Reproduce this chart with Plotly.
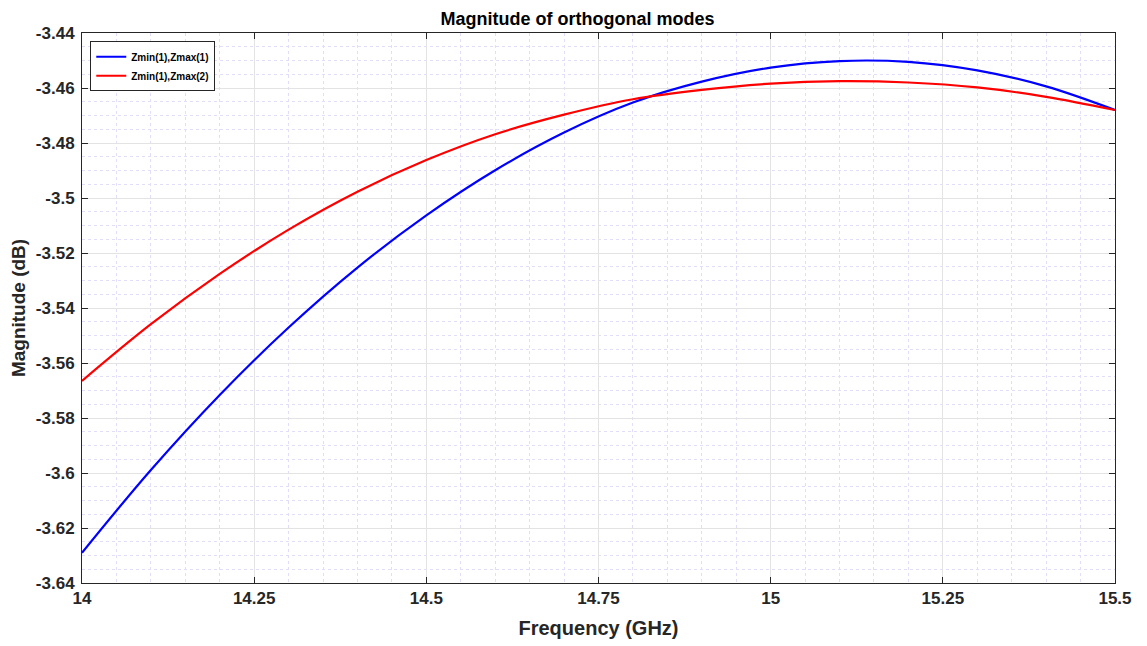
import plotly.graph_objects as go

freq = [14.0, 14.1, 14.2, 14.3, 14.4, 14.5, 14.6, 14.7, 14.8, 14.9, 15.0, 15.1, 15.2, 15.3, 15.4, 15.5]
mag_zmax1 = [-3.6290, -3.5989, -3.5716, -3.5471, -3.5253, -3.5063, -3.4899, -3.4762, -3.4653,
             -3.4577, -3.4526, -3.4502, -3.4505, -3.4536, -3.4594, -3.4680]
mag_zmax2 = [-3.5665, -3.5459, -3.5276, -3.5115, -3.4977, -3.4862, -3.4768, -3.4697, -3.4641,
             -3.4607, -3.4584, -3.4575, -3.4580, -3.4598, -3.4632, -3.4680]
series_names = ["Zmin(1),Zmax(1)", "Zmin(1),Zmax(2)"]

x_ticks = [14, 14.25, 14.5, 14.75, 15, 15.25, 15.5]
x_ticktext = ["14", "14.25", "14.5", "14.75", "15", "15.25", "15.5"]
y_ticks = [-3.64, -3.62, -3.60, -3.58, -3.56, -3.54, -3.52, -3.50, -3.48, -3.46, -3.44]
y_ticktext = ["-3.64", "-3.62", "-3.6", "-3.58", "-3.56", "-3.54", "-3.52", "-3.5", "-3.48", "-3.46", "-3.44"]

FONT = "Liberation Sans, Arial, Helvetica, sans-serif"
TXT = "#262626"

fig = go.Figure()
fig.add_trace(go.Scatter(x=freq, y=mag_zmax1, mode="lines", name=series_names[0],
                         line=dict(color="rgb(0,0,255)", width=2.2, shape="spline")))
fig.add_trace(go.Scatter(x=freq, y=mag_zmax2, mode="lines", name=series_names[1],
                         line=dict(color="rgb(255,0,0)", width=2.2, shape="spline")))

axis_common = dict(
    showline=True, linecolor="#262626", linewidth=1, mirror="ticks",
    ticks="inside", ticklen=6, tickcolor="#262626",
    showgrid=True, gridcolor="#e3e3e3", gridwidth=1,
    zeroline=False, automargin=False,
    tickfont=dict(family=FONT, size=17, color=TXT, weight="bold"),
)

fig.update_xaxes(
    range=[14, 15.5], tickmode="array", tickvals=x_ticks, ticktext=x_ticktext,
    title=dict(text="Frequency (GHz)", font=dict(family=FONT, size=20, color=TXT, weight="bold"), standoff=13),
    minor=dict(tickmode="linear", tick0=14, dtick=0.05, showgrid=True, griddash="dot",
               gridcolor="#e2def9", gridwidth=1, ticks=""),
    **axis_common,
)
fig.update_yaxes(
    range=[-3.64, -3.44], tickmode="array", tickvals=y_ticks, ticktext=y_ticktext,
    title=dict(text="Magnitude (dB)", font=dict(family=FONT, size=19, color=TXT, weight="bold"), standoff=8),
    minor=dict(tickmode="linear", tick0=-3.64, dtick=0.005, showgrid=True, griddash="dot",
               gridcolor="#e2def9", gridwidth=1, ticks=""),
    ticklabelstandoff=3,
    **axis_common,
)

fig.update_layout(
    width=1139, height=638,
    margin=dict(l=74, r=32, t=25, b=63),
    paper_bgcolor="white", plot_bgcolor="white",
    title=dict(text="Magnitude of orthogonal modes", x=0.5, xanchor="center", y=0.984, yanchor="middle",
               font=dict(family=FONT, size=18, color="black", weight="bold")),
    legend=dict(x=0.008, y=0.985, xanchor="left", yanchor="top",
                bgcolor="white", bordercolor="#262626", borderwidth=1,
                font=dict(family=FONT, size=10, color="black", weight="bold"),
                tracegroupgap=0, itemwidth=30),
    showlegend=True,
)

fig.write_html("out.html")
